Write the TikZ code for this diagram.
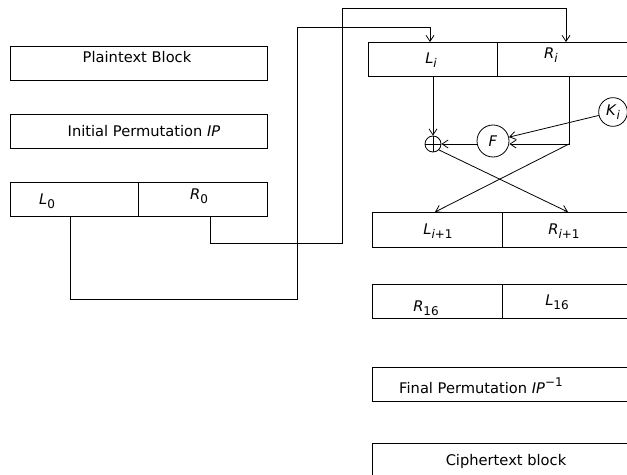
\documentclass[tikz,border=0pt]{standalone}
\usepackage{fontspec}
\setmainfont{DejaVu Sans}
\usetikzlibrary{arrows.meta}
\newcommand{\lowsub}[1]{\raisebox{-0.5ex}{\small #1}}
\newcommand{\highsup}[1]{\raisebox{0.9ex}{\small #1}}
\begin{document}
\begin{tikzpicture}[x=0.75pt,y=-0.75pt,
  line width=0.6pt,
  blk/.style={draw,rectangle,anchor=north west,inner sep=0pt},
  lbl/.style={inner sep=0pt,font=\fontsize{11}{13}\selectfont},
  rnd/.style={draw,circle,inner sep=0pt},
  >={Straight Barb[length=4.5pt,width=6pt]}]
\useasboundingbox (0,0) rectangle (627,474);
\clip (0,0) rectangle (627,474);
% left column
\node[blk,minimum width=192.75pt,minimum height=25.5pt] (pt) at (10,46) {};
\node[blk,minimum width=192.75pt,minimum height=25.5pt] (ip) at (10,114) {};
\node[blk,minimum width=96pt,minimum height=25.5pt] (L0) at (10,182) {};
\node[blk,minimum width=96.75pt,minimum height=25.5pt] (R0) at (138,182) {};
\node[lbl] (tpt) at (137,57) {Plaintext Block};
\node[lbl] (tip) at (144,131) {Initial Permutation \textit{IP}};
\node[lbl] (tL0) at (47,201) {\textit{L}\lowsub{0}};
\node[lbl] (tR0) at (199,196) {\textit{R}\lowsub{0}};
% right column
\node[blk,minimum width=96.75pt,minimum height=25.5pt] (Li) at (368,42) {};
\node[blk,minimum width=99.75pt,minimum height=25.5pt] (Ri) at (497,42) {};
\node[blk,minimum width=97.5pt,minimum height=26.25pt] (Li1) at (372,212) {};
\node[blk,minimum width=97.5pt,minimum height=26.25pt] (Ri1) at (502,212) {};
\node[blk,minimum width=97.5pt,minimum height=25.5pt] (R16) at (372,284) {};
\node[blk,minimum width=97.5pt,minimum height=25.5pt] (L16) at (502,284) {};
\node[blk,minimum width=195pt,minimum height=25.5pt] (fp) at (372,367) {};
\node[blk,minimum width=195pt,minimum height=27pt] (cb) at (372,443) {};
\node[lbl] (tLi) at (431,60) {\textit{L}\lowsub{\textit{i}}};
\node[lbl] (tRi) at (551,55) {\textit{R}\lowsub{\textit{i}}};
\node[lbl] (tLi1) at (438,231) {\textit{L}\lowsub{\textit{i}+1}};
\node[lbl] (tRi1) at (564,231) {\textit{R}\lowsub{\textit{i}+1}};
\node[lbl] (tR16) at (426,308) {\textit{R}\lowsub{16}};
\node[lbl] (tL16) at (557,302) {\textit{L}\lowsub{16}};
\node[lbl] (tfp) at (481,386) {Final Permutation \textit{IP}\highsup{−1}};
\node[lbl] (tcb) at (506,461) {Ciphertext block};
% round elements
\node[rnd,minimum size=12pt] (xor) at (433,144) {};
\draw (xor.north) -- (xor.south) (xor.west) -- (xor.east);
\node[rnd,minimum size=24pt,font=\fontsize{11}{13}\selectfont] (F) at (493,141) {\textit{F}};
\node[rnd,minimum size=21.5pt,font=\fontsize{11}{13}\selectfont] (Ki) at (613,112) {\textit{K}\lowsub{\textit{i}}};
% connectors from left to right
\coordinate (a1) at (210,243);
\coordinate (a2) at (342,243);
\coordinate (a3) at (342,8);
\coordinate (a4) at (566,8);
\draw[->] (R0.south -| a1) -- (a1) -- (a2) -- (a3) -- (a4) -- (Ri.north -| a4);
\coordinate (b1) at (70,299);
\coordinate (b2) at (297,299);
\coordinate (b3) at (297,27);
\coordinate (b4) at (430,27);
\draw[->] (L0.south -| b1) -- (b1) -- (b2) -- (b3) -- (b4) -- (Li.north -| b4);
% round function
\draw[->] (Li.south -| xor) -- (xor.north);
\coordinate (c1) at (569,144);
\draw[->] (Ri.south -| c1) -- (c1) -- (F.east |- c1);
\draw[->] (F.west |- xor) -- (xor.east);
\draw[->] (Ki) -- (F);
\coordinate (d1) at (568,212);
\coordinate (d2) at (435,212);
\draw[->] (xor.south east) -- (d1);
\draw[->] (c1) -- (d2);
\end{tikzpicture}
\end{document}
